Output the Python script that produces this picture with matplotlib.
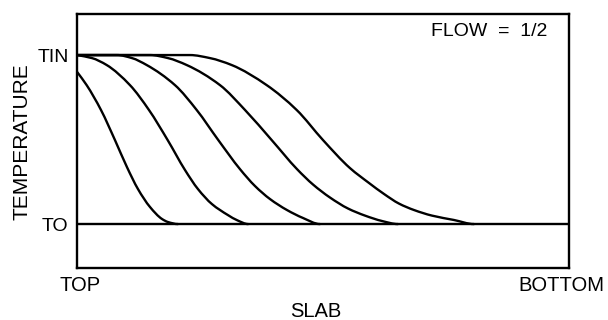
import matplotlib
matplotlib.use("Agg")
import matplotlib.pyplot as plt
from matplotlib.path import Path
from matplotlib.patches import PathPatch
from matplotlib.transforms import ScaledTranslation

plt.rcParams['font.family'] = ['Liberation Sans', 'DejaVu Sans']

# Slab depth (% from top) and normalised temperature (TO=0, TIN=1)
x1 = [0, 1.97, 4.88, 7.72, 10.16, 12.4, 14.84, 17.28, 18.5, 20.53]
y1 = [0.901, 0.822, 0.675, 0.497, 0.337, 0.207, 0.101, 0.030, 0.012, 0.0]

x2 = [0, 3.05, 6.04, 10.77, 14.63, 18.43, 21.95, 24.59, 27.44, 30.69, 32.6, 34.8]
y2 = [1.0, 0.982, 0.941, 0.822, 0.675, 0.497, 0.320, 0.207, 0.118, 0.053, 0.022, 0.0]

x3 = [0, 8.13, 11.18, 14.17, 19.92, 24.33, 28.72, 33.13, 36.18, 39.23, 42.68, 45.93, 49.39]
y3 = [1.0, 1.0, 0.982, 0.941, 0.822, 0.675, 0.497, 0.325, 0.225, 0.148, 0.083, 0.036, 0.0]

x4 = [0, 14.84, 18.5, 22.3, 29.07, 34.15, 39.57, 44.72, 47.97, 51.42, 55.08, 58.54, 62.0, 65.24]
y4 = [1.0, 1.0, 0.982, 0.941, 0.822, 0.675, 0.497, 0.325, 0.234, 0.157, 0.092, 0.050, 0.018, 0.0]

x5 = [0, 22.97, 27.03, 31.44, 38.56, 44.65, 50.0, 55.49, 59.35, 62.4, 65.45, 68.5, 72.15, 76.63, 80.69]
y5 = [1.0, 1.0, 0.982, 0.941, 0.822, 0.675, 0.497, 0.331, 0.243, 0.178, 0.121, 0.083, 0.050, 0.024, 0.0]

base_x = [0, 100]
base_y = [0.0, 0.0]

xtick_pos = [0, 100]
xtick_labels = ['TOP', 'BOTTOM']
ytick_pos = [0, 1]
ytick_labels = ['TO', 'TIN']


def smooth_path(xs, ys):
    """Monotone cubic (PCHIP-style) Bezier path through the given points."""
    n = len(xs)
    h = [xs[i + 1] - xs[i] for i in range(n - 1)]
    d = [(ys[i + 1] - ys[i]) / h[i] for i in range(n - 1)]
    m = [0.0] * n
    m[0] = d[0]
    m[-1] = 0.0
    for k in range(1, n - 1):
        if d[k - 1] * d[k] <= 0:
            m[k] = 0.0
        else:
            w1 = 2 * h[k] + h[k - 1]
            w2 = h[k] + 2 * h[k - 1]
            m[k] = (w1 + w2) / (w1 / d[k - 1] + w2 / d[k])
    verts = [(xs[0], ys[0])]
    codes = [Path.MOVETO]
    for i in range(n - 1):
        verts += [(xs[i] + h[i] / 3, ys[i] + m[i] * h[i] / 3),
                  (xs[i + 1] - h[i] / 3, ys[i + 1] - m[i + 1] * h[i] / 3),
                  (xs[i + 1], ys[i + 1])]
        codes += [Path.CURVE4] * 3
    return Path(verts, codes)


fig = plt.figure(figsize=(6.08, 3.2), dpi=100)
ax = fig.add_axes([0.1266, 0.1625, 0.8093, 0.7922])

lw = 1.7
for xs, ys in [(x1, y1), (x2, y2), (x3, y3), (x4, y4), (x5, y5)]:
    ax.add_patch(PathPatch(smooth_path(xs, ys), fill=False, edgecolor='black',
                           lw=lw, capstyle='round'))
ax.plot(base_x, base_y, color='black', lw=lw)

ax.set_xlim(0, 100)
ax.set_ylim(-0.26, 1.24)

for s in ax.spines.values():
    s.set_linewidth(lw)

ax.set_xticks(xtick_pos)
ax.set_xticklabels(xtick_labels, fontsize=14.5)
ax.set_yticks(ytick_pos)
ax.set_yticklabels(ytick_labels, fontsize=14)
ax.tick_params(length=0, pad=6)

labs = ax.get_xticklabels()
labs[0].set_transform(labs[0].get_transform() + ScaledTranslation(3/100, 0, fig.dpi_scale_trans))
labs[1].set_transform(labs[1].get_transform() + ScaledTranslation(-8/100, 0, fig.dpi_scale_trans))

ax.set_xlabel('SLAB', fontsize=14.5, labelpad=2)
ax.xaxis.set_label_coords(0.486, -0.135)
ax.set_ylabel('TEMPERATURE', fontsize=15, labelpad=4)

ax.text(95.7, 1.142, 'FLOW  =  1/2', fontsize=14, ha='right', va='center')

fig.savefig('out.png', dpi=100)
